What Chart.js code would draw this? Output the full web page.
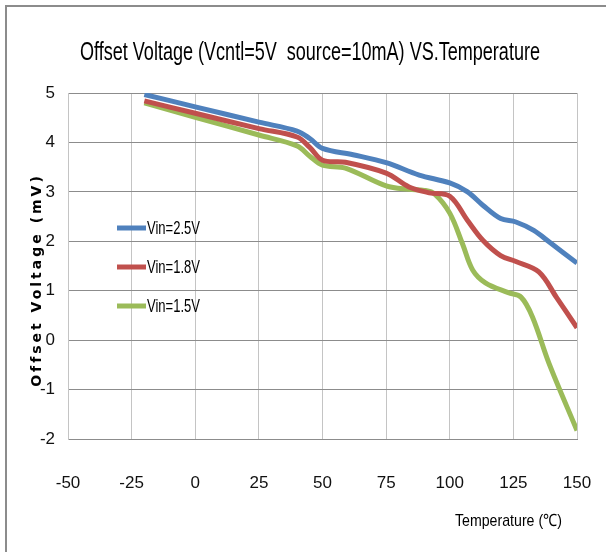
<!DOCTYPE html>
<html>
<head>
<meta charset="utf-8">
<script src="https://cdn.jsdelivr.net/npm/chart.js@4.4.1/dist/chart.umd.min.js"></script>
<style>
  html, body { margin: 0; padding: 0; background: #ffffff; overflow: hidden; }
  #wrap { position: relative; width: 606px; height: 552px; background: #fff; }
  #frame { position: absolute; left: 5px; top: 5px; width: 601px; height: 547px;
           border-top: 2px solid #8c8c8c; border-left: 2px solid #8c8c8c; pointer-events: none; box-sizing: border-box; }
  canvas { position: absolute; left: 0; top: 0; }
</style>
</head>
<body>
<div id="wrap">
  <canvas id="c" width="606" height="552"></canvas>
  <div id="frame"></div>
</div>
<script>
// ---- data ----
const chartTitle = "Offset Voltage (Vcntl=5V  source=10mA) VS.Temperature";
const xAxisTitle = "Temperature (\u2103)";
const yAxisTitle = "Offset Voltage (mV)";
const seriesNames = ["Vin=2.5V", "Vin=1.8V", "Vin=1.5V"];
const seriesColors = ["#4f81bd", "#c0504d", "#9bbb59"];

const xTicks = [-50, -25, 0, 25, 50, 75, 100, 125, 150];
const yTicks = [-2, -1, 0, 1, 2, 3, 4, 5];

const tempBlue = [-20, 0, 25, 40, 45, 50, 62, 75, 88, 100, 107, 113, 120, 126, 133, 139, 150];
const vinBlue  = [4.97, 4.72, 4.41, 4.23, 4.08, 3.88, 3.75, 3.59, 3.34, 3.18, 3.00, 2.73, 2.46, 2.39, 2.22, 1.99, 1.56];

const tempRed = [-20, 0, 25, 40, 45, 50, 59, 75, 84, 92, 100, 107, 113, 120, 126, 135, 142, 150];
const vinRed  = [4.84, 4.59, 4.28, 4.11, 3.90, 3.64, 3.60, 3.38, 3.10, 2.98, 2.91, 2.42, 2.02, 1.71, 1.59, 1.38, 0.86, 0.25];

const tempGreen = [-20, 0, 25, 40, 45, 50, 59, 75, 84, 90, 94, 100, 105, 109, 114, 123, 128, 132.5, 139, 150];
const vinGreen  = [4.80, 4.51, 4.15, 3.93, 3.72, 3.54, 3.48, 3.12, 3.05, 3.03, 2.96, 2.57, 1.95, 1.42, 1.16, 0.96, 0.87, 0.47, -0.47, -1.83];

const temps = [tempBlue, tempRed, tempGreen];
const vals = [vinBlue, vinRed, vinGreen];

const SANS = "'Liberation Sans Narrow', 'Liberation Sans', Arial, sans-serif";

const datasets = seriesNames.map((name, i) => ({
  label: name,
  data: temps[i].map((t, k) => ({ x: t, y: vals[i][k] })),
  borderColor: seriesColors[i],
  backgroundColor: seriesColors[i],
  borderWidth: 5,
  pointRadius: 0,
  tension: 0.35,
  fill: false
}));

// draw text squeezed horizontally to a target width (reference uses a condensed face)
function fitText(ctx, text, x, y, targetW, align) {
  const w = ctx.measureText(text).width;
  const k = Math.min(1, targetW / w);
  ctx.save();
  ctx.translate(x, y);
  ctx.scale(k, 1);
  ctx.textAlign = align;
  ctx.fillText(text, 0, 0);
  ctx.restore();
}

const decor = {
  id: 'decor',
  afterDatasetsDraw(chart) {
    const ctx = chart.ctx;
    const a = chart.chartArea;
    ctx.save();
    ctx.fillStyle = '#000';
    ctx.textBaseline = 'middle';
    // legend inside plot
    chart.data.datasets.forEach((ds, i) => {
      const y = a.top + 135 + i * 39;
      const x0 = a.left + 49;
      ctx.strokeStyle = ds.borderColor;
      ctx.lineWidth = 5;
      ctx.beginPath();
      ctx.moveTo(x0, y);
      ctx.lineTo(x0 + 29, y);
      ctx.stroke();
      ctx.font = "18px " + SANS;
      fitText(ctx, ds.label, x0 + 30, y + 1, 53, 'left');
    });
    // title
    ctx.font = "26px " + SANS;
    fitText(ctx, chartTitle, 310, 53, 460, 'center');
    // x axis title
    ctx.font = "17px " + SANS;
    fitText(ctx, xAxisTitle, 562, 521, 107, 'right');
    // y axis title
    ctx.translate(37, 280);
    ctx.rotate(-Math.PI / 2);
    ctx.font = "bold 14px 'DejaVu Sans', sans-serif";
    ctx.letterSpacing = "3px";
    ctx.textAlign = 'center';
    ctx.fillText(yAxisTitle, 0, 0);
    ctx.restore();
  }
};

new Chart(document.getElementById('c'), {
  type: 'line',
  data: { datasets },
  options: {
    responsive: false,
    animation: false,
    layout: { padding: { left: 0, right: 29, top: 93, bottom: 0 } },
    plugins: { legend: { display: false }, tooltip: { enabled: false }, title: { display: false } },
    scales: {
      x: {
        type: 'linear', min: -50, max: 150,
        afterBuildTicks(s) { s.ticks = xTicks.map(v => ({ value: v })); },
        afterFit(s) { s.height = 552 - 439; s.paddingLeft = 0; s.paddingRight = 0; },
        ticks: { color: '#111', font: { family: SANS, size: 17 }, padding: 34, maxRotation: 0 },
        grid: { color: '#c4c4c4', lineWidth: 1, drawTicks: false },
        border: { color: '#8c8c8c' }
      },
      y: {
        type: 'linear', min: -2, max: 5,
        afterBuildTicks(s) { s.ticks = yTicks.map(v => ({ value: v })); },
        afterFit(s) { s.width = 68; s.paddingTop = 0; s.paddingBottom = 0; },
        ticks: { color: '#111', font: { family: SANS, size: 17 }, padding: 13 },
        grid: { color: '#8c8c8c', lineWidth: 1, drawTicks: false },
        border: { color: '#c4c4c4' }
      }
    }
  },
  plugins: [decor]
});
</script>
</body>
</html>
